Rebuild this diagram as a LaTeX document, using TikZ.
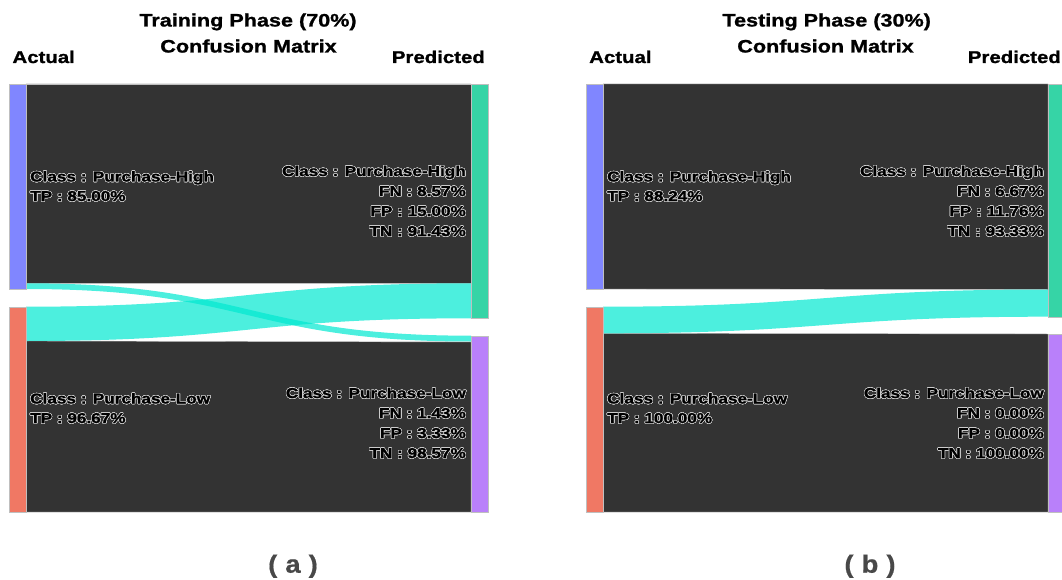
\documentclass[tikz,border=0pt]{standalone}
\usepackage{fontspec}
\setmainfont{Liberation Sans}[FakeStretch=1.2, BoldFeatures={FakeBold=1.2}]
\newfontfamily\capfont{Liberation Sans}[FakeStretch=1.1, BoldFeatures={FakeBold=0.6}]
\usepackage[copies]{contour}
\contourlength{0.55pt}
\contournumber{24}

\definecolor{barblue}{RGB}{128,134,255}
\definecolor{barred}{RGB}{240,120,100}
\definecolor{bargreen}{RGB}{54,212,166}
\definecolor{barpurple}{RGB}{185,128,250}
\definecolor{darkflow}{RGB}{51,51,51}
\definecolor{cyanflow}{RGB}{0,232,208}
\definecolor{halo}{RGB}{205,205,205}
\definecolor{capgrey}{RGB}{72,72,72}

% halo-outlined label text
\newcommand{\lbl}[1]{\contour{halo}{#1}}

% Sankey band: #1 x-left, #2/#3 top/bottom at left, #4 x-right, #5/#6 top/bottom at right
\newcommand{\sband}[7]{%
  \pgfmathsetmacro{\xm}{(#1+#4)/2}%
  \path[#7] (#1,#2) .. controls (\xm,#2) and (\xm,#5) .. (#4,#5)
    -- (#4,#6) .. controls (\xm,#6) and (\xm,#3) .. (#1,#3) -- cycle;}

\begin{document}
\begin{tikzpicture}[x=1pt,y=-1pt,
  bar/.style={draw=black!25, line width=0.5pt, inner sep=0pt, minimum width=17pt, anchor=north west},
  darkband/.style={fill=darkflow, draw=black!25, line width=0.4pt},
  cyanband/.style={fill=cyanflow, fill opacity=0.7},
  title/.style={font=\bfseries\fontsize{18}{20}\selectfont, inner sep=0pt, anchor=base},
  axis/.style={font=\bfseries\fontsize{17}{19}\selectfont, inner sep=0pt},
  flab/.style={font=\bfseries\fontsize{14.3}{16}\selectfont, inner sep=0pt},
  sublab/.style={font=\capfont\bfseries\fontsize{25}{28}\selectfont, text=capgrey, inner sep=0pt, anchor=base}]
\useasboundingbox (0,0) rectangle (1062,580);
\clip (0,0) rectangle (1062,580);

% ---------------- (a) training phase ----------------
\sband{26}{84}{283}{471}{84}{283}{darkband}
\sband{26}{341}{512}{471}{342}{512}{darkband}
\sband{26}{306.7}{341}{471}{283.3}{318.3}{cyanband}
\sband{26}{283.3}{289}{471}{335.7}{341.5}{cyanband}

\node[bar, fill=barblue,   minimum height=205pt]   (aActH)  at (9,84) {};
\node[bar, fill=barred,    minimum height=205.3pt] (aActL)  at (9,306.7) {};
\node[bar, fill=bargreen,  minimum height=234.3pt] (aPredH) at (471,84) {};
\node[bar, fill=barpurple, minimum height=176.3pt] (aPredL) at (471,335.7) {};

\node[title] (aTitle1) at (248,26.5) {Training Phase (70\%)};
\node[title] (aTitle2) at (248.5,52.5) {Confusion Matrix};
\node[axis, anchor=base west] (aActual) at (12.3,63) {Actual};
\node[axis, anchor=base east] (aPred) at (485,63) {Predicted};

\node[flab, anchor=base west] (aLH1) at (30,181.5) {\lbl{Class : Purchase-High}};
\node[flab, anchor=base west] (aLH2) at (30,201) {\lbl{TP : 85.00\%}};
\node[flab, anchor=base west] (aLL1) at (30,403.5) {\lbl{Class : Purchase-Low}};
\node[flab, anchor=base west] (aLL2) at (30,423) {\lbl{TP : 96.67\%}};

\node[flab, anchor=base east] (aRH1) at (466,176) {\lbl{Class : Purchase-High}};
\node[flab, anchor=base east] (aRH2) at (466,196) {\lbl{FN : 8.57\%}};
\node[flab, anchor=base east] (aRH3) at (466,216) {\lbl{FP : 15.00\%}};
\node[flab, anchor=base east] (aRH4) at (466,236) {\lbl{TN : 91.43\%}};
\node[flab, anchor=base east] (aRL1) at (466,398) {\lbl{Class : Purchase-Low}};
\node[flab, anchor=base east] (aRL2) at (466,418) {\lbl{FN : 1.43\%}};
\node[flab, anchor=base east] (aRL3) at (466,438) {\lbl{FP : 3.33\%}};
\node[flab, anchor=base east] (aRL4) at (466,458) {\lbl{TN : 98.57\%}};

\node[sublab] (capA) at (293,572.7) {(\hspace{8pt}a\hspace{8pt})};

% ---------------- (b) testing phase ----------------
\sband{603}{84}{289}{1048}{84}{289.5}{darkband}
\sband{603}{333.3}{512}{1048}{334}{512}{darkband}
\sband{603}{306.7}{333.3}{1048}{289.5}{316.7}{cyanband}

\node[bar, fill=barblue,   minimum height=205pt]   (bActH)  at (586,84) {};
\node[bar, fill=barred,    minimum height=205.3pt] (bActL)  at (586,306.7) {};
\node[bar, fill=bargreen,  minimum height=232.7pt] (bPredH) at (1048,84) {};
\node[bar, fill=barpurple, minimum height=178pt]   (bPredL) at (1048,334) {};

\node[title] (bTitle1) at (826.7,26.5) {Testing Phase (30\%)};
\node[title] (bTitle2) at (825.5,52.5) {Confusion Matrix};
\node[axis, anchor=base west] (bActual) at (589,63) {Actual};
\node[axis, anchor=base east] (bPred) at (1061,63) {Predicted};

\node[flab, anchor=base west] (bLH1) at (607,181.5) {\lbl{Class : Purchase-High}};
\node[flab, anchor=base west] (bLH2) at (607,201) {\lbl{TP : 88.24\%}};
\node[flab, anchor=base west] (bLL1) at (607,403.5) {\lbl{Class : Purchase-Low}};
\node[flab, anchor=base west] (bLL2) at (607,423) {\lbl{TP : 100.00\%}};

\node[flab, anchor=base east] (bRH1) at (1044,176) {\lbl{Class : Purchase-High}};
\node[flab, anchor=base east] (bRH2) at (1044,196) {\lbl{FN : 6.67\%}};
\node[flab, anchor=base east] (bRH3) at (1044,216) {\lbl{FP : 11.76\%}};
\node[flab, anchor=base east] (bRH4) at (1044,236) {\lbl{TN : 93.33\%}};
\node[flab, anchor=base east] (bRL1) at (1044,398) {\lbl{Class : Purchase-Low}};
\node[flab, anchor=base east] (bRL2) at (1044,418) {\lbl{FN : 0.00\%}};
\node[flab, anchor=base east] (bRL3) at (1044,438) {\lbl{FP : 0.00\%}};
\node[flab, anchor=base east] (bRL4) at (1044,458) {\lbl{TN : 100.00\%}};

\node[sublab] (capB) at (870,572.7) {(\hspace{8pt}b\hspace{8pt})};
\end{tikzpicture}
\end{document}
